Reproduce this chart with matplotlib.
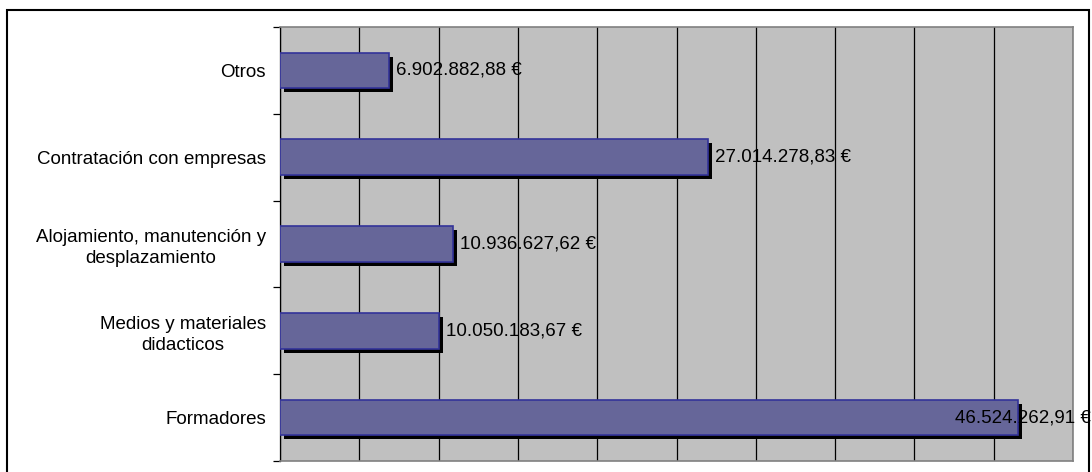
import matplotlib
matplotlib.use("Agg")
import matplotlib.pyplot as plt
from matplotlib.patches import Rectangle
from matplotlib.transforms import ScaledTranslation

plt.rcParams['font.family'] = ['Liberation Sans', 'DejaVu Sans']

categorias = ['Formadores',
              'Medios y materiales\ndidacticos',
              'Alojamiento, manutención y\ndesplazamiento',
              'Contratación con empresas',
              'Otros']
importes = [46524262.91, 10050183.67, 10936627.62, 27014278.83, 6902882.88]


def euros(v):
    s = f"{v:,.2f}".replace(",", "X").replace(".", ",").replace("X", ".")
    return s + " €"


fig = plt.figure(figsize=(10.92, 4.72), dpi=100)
ax = fig.add_axes([280 / 1092, 11 / 472, 793 / 1092, 434 / 472])
ax.set_facecolor('#c0c0c0')

pos = list(range(len(categorias)))
# sombra de las barras
sombra = ax.transData + ScaledTranslation(4 / 100, -4 / 100, fig.dpi_scale_trans)
ax.barh(pos, importes, height=0.41, color='black', transform=sombra, zorder=2)
ax.barh(pos, importes, height=0.41, color='#666699', edgecolor='#333399',
        linewidth=1.2, zorder=3)

ax.set_xlim(0, 50000000)
ax.set_ylim(-0.5, len(categorias) - 0.5)
ax.set_xticks(range(0, 50000001, 5000000))
ax.tick_params(axis='x', length=0, labelbottom=False)
ax.grid(axis='x', color='black', linewidth=0.9, zorder=1)
ax.set_axisbelow(True)

ax.set_yticks(pos)
ax.set_yticklabels(categorias, fontsize=13.5, multialignment='center', linespacing=1.3)
ax.tick_params(axis='y', length=0, pad=10)
ax.set_yticks([p - 0.5 for p in pos] + [len(pos) - 0.5], minor=True)
ax.tick_params(axis='y', which='minor', length=5, width=0.9, color='black')

for s in ['top', 'right', 'bottom']:
    ax.spines[s].set_color('#808080')
    ax.spines[s].set_linewidth(1.2)
ax.spines['left'].set_color('black')
ax.spines['left'].set_linewidth(0.9)

# etiquetas de valor
renderer = fig.canvas.get_renderer()
offset = ScaledTranslation(7 / 100, 0, fig.dpi_scale_trans)
for p, v in zip(pos, importes):
    t = ax.text(v, p, euros(v), fontsize=13.5, va='center', ha='left',
                transform=ax.transData + offset, zorder=5)
    bb = t.get_window_extent(renderer)
    if bb.x1 > fig.bbox.width - 1:
        # como Excel: si no cabe, se alinea al borde derecho del gráfico
        y_fig = ax.get_position().y0 + ax.get_position().height * (p + 0.5) / len(pos)
        t.set_transform(fig.transFigure)
        t.set_position((1091 / 1092, y_fig))
        t.set_ha('right')

# marco exterior
fig.patches.append(Rectangle((7 / 1092, -0.05), 1082 / 1092, 1.05 - 10 / 472,
                             transform=fig.transFigure, fill=False,
                             edgecolor='black', linewidth=1.5, zorder=10))

fig.savefig('out.png', dpi=100)
